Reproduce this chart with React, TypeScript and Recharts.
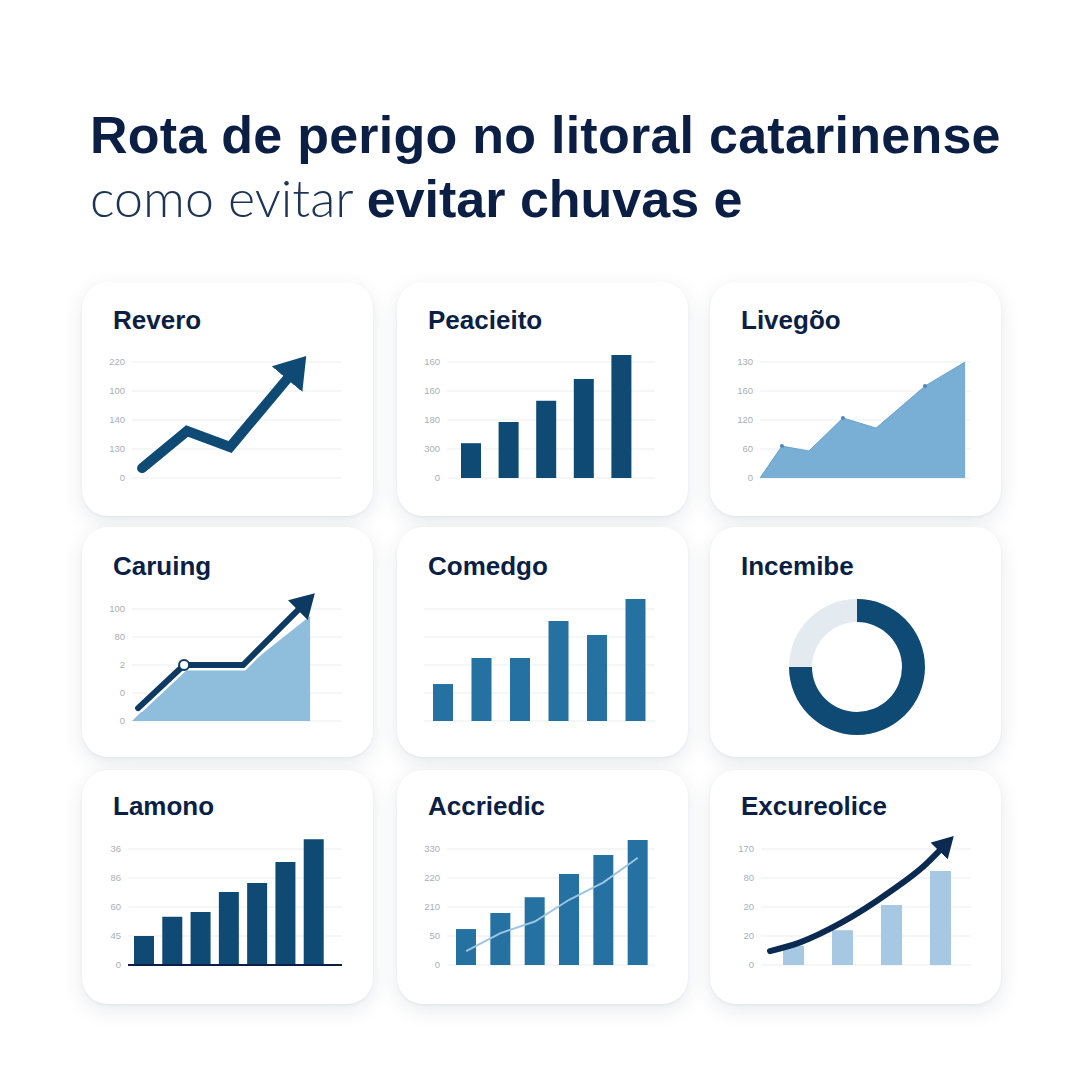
import React from "react";
import {
  LineChart,
  Line,
  BarChart,
  Bar,
  AreaChart,
  Area,
  ComposedChart,
  PieChart,
  Pie,
  Cell,
  XAxis,
  YAxis,
  CartesianGrid,
  ReferenceLine,
} from "recharts";

const FONT = '"Liberation Sans", Arial, Helvetica, sans-serif';
const NAVY = "#0b1f45";
const DARK = "#0e4a73";
const MID = "#2571a2";
const LIGHT = "#79afd5";
const PALE = "#a6c8e2";
const GRID = "#e9edf1";
const TICK = "#a9b0b8";

// headline
const headline1 = "Rota de perigo no litoral catarinense";
const headline2Light = "como evitar ";
const headline2Bold = "evitar chuvas e";

// Revero (line with arrow)
const reveroX = [0.48, 2.62, 4.67, 7.38];
const reveroY = [0.34, 1.62, 1.07, 3.41];
const reveroTicks = ["0", "130", "140", "100", "220"];

// Peacieito (bars)
const peacCats = ["A", "B", "C", "D", "E"];
const peacValues = [1.2, 1.93, 2.66, 3.41, 4.24];
const peacTicks = ["0", "300", "180", "160", "160"];

// Livegõo (area)
const livX = [0, 1.04, 2.32, 3.93, 5.5, 7.82, 9.72];
const livY = [0, 1.1, 0.93, 2.07, 1.72, 3.17, 4.0];
const livTicks = ["0", "60", "120", "160", "130"];

// Caruing (area + arrow line)
const carAreaX = [0, 2.48, 5.29, 8.48];
const carAreaY = [0, 1.85, 1.85, 3.75];
const carLineX = [0.29, 2.48, 5.29, 7.9];
const carLineY = [0.46, 2.0, 2.0, 3.96];
const carTicks = ["0", "0", "2", "80", "100"];

// Comedgo (bars, no labels)
const comCats = ["A", "B", "C", "D", "E", "F"];
const comValues = [1.32, 2.25, 2.25, 3.57, 3.07, 4.36];

// Incemibe (donut)
const incNames = ["A", "B"];
const incValues = [75, 25];

// Lamono (bars)
const lamCats = ["A", "B", "C", "D", "E", "F", "G"];
const lamValues = [1.0, 1.66, 1.83, 2.52, 2.83, 3.55, 4.34];
const lamTicks = ["0", "45", "60", "86", "36"];

// Accriedic (bars + thin line)
const accCats = ["A", "B", "C", "D", "E", "F"];
const accBars = [1.24, 1.79, 2.34, 3.14, 3.79, 4.31];
const accLine = [0.48, 1.1, 1.5, 2.25, 2.85, 3.7];
const accTicks = ["0", "50", "210", "220", "330"];

// Excureolice (bars + curved arrow)
const excCats = ["A", "B", "C", "D"];
const excBars = [0.66, 1.2, 2.07, 3.24];
const excLineX = [0.43, 1.86, 3.81, 6.19, 7.81, 8.48];
const excLineY = [0.48, 0.78, 1.45, 2.55, 3.45, 3.93];
const excTicks = ["0", "20", "20", "80", "170"];

const W = 291;
const COLS = [82, 397, 710];
const ROWS = [
  { y: 282, h: 234, top: 80, bottom: 196, titleTop: 25 },
  { y: 527, h: 230, top: 82, bottom: 194, titleTop: 26 },
  { y: 770, h: 234, top: 79, bottom: 195, titleTop: 23 },
];
const yTicks = [0, 1, 2, 3, 4];

const margins = (row: number, left: number, right: number, axis: boolean) => {
  const r = ROWS[row];
  const unit = (r.bottom - r.top) / 4;
  return { top: r.top - unit, bottom: r.h - r.bottom, left: axis ? 0 : left, right: W - right };
};

const grid = <CartesianGrid vertical={false} stroke={GRID} horizontalValues={yTicks} />;

const valueAxis = (labels: string[] | null, width: number) =>
  labels ? (
    <YAxis
      type="number"
      domain={[0, 5]}
      ticks={yTicks}
      width={width}
      axisLine={false}
      tickLine={false}
      tickSize={6}
      tickMargin={1}
      interval={0}
      tick={{ fontSize: 9.5, fill: TICK, fontFamily: FONT }}
      tickFormatter={(v: number) => labels[v] ?? ""}
    />
  ) : (
    <YAxis type="number" domain={[0, 5]} ticks={yTicks} hide />
  );

const arrowMarker = (id: string, len: number, wid: number, color: string) => (
  <defs>
    <marker
      id={id}
      viewBox={`0 0 ${len} ${wid}`}
      refX={0}
      refY={wid / 2}
      markerWidth={len}
      markerHeight={wid}
      markerUnits="userSpaceOnUse"
      orient="auto"
    >
      <path d={`M0,0 L${len},${wid / 2} L0,${wid} Z`} fill={color} />
    </marker>
  </defs>
);

const layer: React.CSSProperties = { position: "absolute", left: 0, top: 0 };

const Card = ({ col, row, title, children }: { col: number; row: number; title: string; children?: React.ReactNode }) => {
  const r = ROWS[row];
  return (
    <div
      style={{
        position: "absolute",
        left: COLS[col],
        top: r.y,
        width: W,
        height: r.h,
        background: "#ffffff",
        borderRadius: 26,
        boxShadow: "0 6px 20px rgba(25,45,80,0.10), 0 1px 3px rgba(25,45,80,0.06)",
      }}
    >
      <div
        style={{
          position: "absolute",
          left: 31,
          top: r.titleTop,
          fontSize: 26,
          lineHeight: "26px",
          fontWeight: 700,
          color: NAVY,
          whiteSpace: "nowrap",
        }}
      >
        {title}
      </div>
      {children}
    </div>
  );
};

export default function App() {
  const reveroData = reveroX.map((x, i) => ({ x, y: reveroY[i] }));
  const peacData = peacCats.map((k, i) => ({ k, v: peacValues[i] }));
  const livData = livX.map((x, i) => ({ x, y: livY[i] }));
  const carAreaData = carAreaX.map((x, i) => ({ x, y: carAreaY[i] }));
  const carLineData = carLineX.map((x, i) => ({ x, y: carLineY[i] }));
  const comData = comCats.map((k, i) => ({ k, v: comValues[i] }));
  const incData = incNames.map((name, i) => ({ name, value: incValues[i] }));
  const lamData = lamCats.map((k, i) => ({ k, v: lamValues[i] }));
  const accData = accCats.map((k, i) => ({ k, v: accBars[i], t: accLine[i] }));
  const excData = excCats.map((k, i) => ({ k, v: excBars[i] }));
  const excLineData = excLineX.map((x, i) => ({ x, y: excLineY[i] }));

  return (
    <div
      style={{
        position: "absolute",
        left: 0,
        top: 0,
        width: 1080,
        height: 1080,
        background: "#ffffff",
        overflow: "hidden",
        fontFamily: FONT,
      }}
    >
      <div
        style={{
          position: "absolute",
          left: 90,
          top: 109,
          fontSize: 52,
          lineHeight: "52px",
          fontWeight: 700,
          letterSpacing: 0.25,
          color: NAVY,
          whiteSpace: "nowrap",
        }}
      >
        {headline1}
      </div>
      <div
        style={{
          position: "absolute",
          left: 90,
          top: 171,
          fontSize: 52,
          lineHeight: "52px",
          whiteSpace: "nowrap",
          color: NAVY,
        }}
      >
        <span style={{ fontFamily: "Lato, 'Open Sans', sans-serif", fontWeight: 300, color: "#1b3355" }}>
          {headline2Light}
        </span>
        <span style={{ fontWeight: 700 }}>{headline2Bold}</span>
      </div>

      {/* Revero */}
      <Card col={0} row={0} title="Revero">
        <div style={layer}>
          <LineChart width={W} height={ROWS[0].h} data={reveroData} margin={margins(0, 50, 260, true)}>
            {arrowMarker("arrowRevero", 30, 40, DARK)}
            {grid}
            <XAxis type="number" dataKey="x" domain={[0, 10]} hide />
            {valueAxis(reveroTicks, 50)}
            <Line
              dataKey="y"
              type="linear"
              stroke={DARK}
              strokeWidth={10}
              strokeLinecap="round"
              strokeLinejoin="miter"
              dot={false}
              isAnimationActive={false}
              markerEnd="url(#arrowRevero)"
            />
          </LineChart>
        </div>
      </Card>

      {/* Peacieito */}
      <Card col={1} row={0} title="Peacieito">
        <div style={layer}>
          <BarChart width={W} height={ROWS[0].h} data={peacData} margin={margins(0, 50, 258, true)}>
            {grid}
            <XAxis dataKey="k" hide padding={{ left: 5, right: 15 }} />
            {valueAxis(peacTicks, 50)}
            <Bar dataKey="v" fill={DARK} barSize={20} isAnimationActive={false} />
          </BarChart>
        </div>
      </Card>

      {/* Livegõo */}
      <Card col={2} row={0} title="Livegõo">
        <div style={layer}>
          <AreaChart width={W} height={ROWS[0].h} data={livData} margin={margins(0, 50, 261, true)}>
            {grid}
            <XAxis type="number" dataKey="x" domain={[0, 10]} hide />
            {valueAxis(livTicks, 50)}
            <Area
              dataKey="y"
              type="linear"
              stroke="#6aa3cc"
              strokeWidth={1}
              fill={LIGHT}
              fillOpacity={1}
              isAnimationActive={false}
              dot={(p: any) =>
                p.index === 1 || p.index === 3 || p.index === 5 ? (
                  <circle key={p.index} cx={p.cx} cy={p.cy} r={2} fill="#4f88b5" />
                ) : (
                  <g key={p.index} />
                )
              }
            />
          </AreaChart>
        </div>
      </Card>

      {/* Caruing */}
      <Card col={0} row={1} title="Caruing">
        <div style={layer}>
          <AreaChart width={W} height={ROWS[1].h} data={carAreaData} margin={margins(1, 50, 260, true)}>
            {grid}
            <XAxis type="number" dataKey="x" domain={[0, 10]} hide />
            {valueAxis(carTicks, 50)}
            <Area
              dataKey="y"
              type="linear"
              stroke="none"
              fill="#8fbddc"
              fillOpacity={1}
              dot={false}
              isAnimationActive={false}
            />
          </AreaChart>
        </div>
        <div style={layer}>
          <LineChart width={W} height={ROWS[1].h} data={carLineData} margin={margins(1, 50, 260, false)}>
            {arrowMarker("arrowCaruing", 24, 28, "#0d3a62")}
            <XAxis type="number" dataKey="x" domain={[0, 10]} hide />
            {valueAxis(null, 0)}
            <Line
              dataKey="y"
              type="linear"
              stroke="#ffffff"
              strokeWidth={11}
              dot={false}
              isAnimationActive={false}
            />
            <Line
              dataKey="y"
              type="linear"
              stroke="#0d3a62"
              strokeWidth={6}
              strokeLinecap="round"
              isAnimationActive={false}
              markerEnd="url(#arrowCaruing)"
              dot={(p: any) =>
                p.index === 1 ? (
                  <circle key={p.index} cx={p.cx} cy={p.cy} r={5} fill="#ffffff" stroke="#0d3a62" strokeWidth={2} />
                ) : (
                  <g key={p.index} />
                )
              }
            />
          </LineChart>
        </div>
      </Card>

      {/* Comedgo */}
      <Card col={1} row={1} title="Comedgo">
        <div style={layer}>
          <BarChart width={W} height={ROWS[1].h} data={comData} margin={margins(1, 27, 258, false)}>
            {grid}
            <XAxis dataKey="k" hide />
            {valueAxis(null, 0)}
            <Bar dataKey="v" fill={MID} barSize={20} isAnimationActive={false} />
          </BarChart>
        </div>
      </Card>

      {/* Incemibe */}
      <Card col={2} row={1} title="Incemibe">
        <div style={layer}>
          <PieChart width={W} height={ROWS[1].h} margin={{ top: 0, right: 0, bottom: 0, left: 0 }}>
            <Pie
              data={incData}
              dataKey="value"
              nameKey="name"
              cx={147}
              cy={140}
              innerRadius={45}
              outerRadius={68}
              startAngle={90}
              endAngle={-270}
              stroke="none"
              isAnimationActive={false}
            >
              <Cell fill={DARK} />
              <Cell fill="#e3eaf0" />
            </Pie>
          </PieChart>
        </div>
      </Card>

      {/* Lamono */}
      <Card col={0} row={2} title="Lamono">
        <div style={layer}>
          <BarChart width={W} height={ROWS[2].h} data={lamData} margin={margins(2, 46, 260, true)}>
            {grid}
            <XAxis dataKey="k" hide padding={{ left: 2, right: 14 }} />
            {valueAxis(lamTicks, 46)}
            <Bar dataKey="v" fill={DARK} barSize={20} isAnimationActive={false} />
            <ReferenceLine y={0} stroke={NAVY} strokeWidth={2} />
          </BarChart>
        </div>
      </Card>

      {/* Accriedic */}
      <Card col={1} row={2} title="Accriedic">
        <div style={layer}>
          <ComposedChart width={W} height={ROWS[2].h} data={accData} margin={margins(2, 50, 258, true)}>
            {grid}
            <XAxis dataKey="k" hide padding={{ left: 2, right: 0 }} />
            {valueAxis(accTicks, 50)}
            <Bar dataKey="v" fill={MID} barSize={20} isAnimationActive={false} />
            <Line dataKey="t" type="linear" stroke="#9cc5e1" strokeWidth={2} dot={false} isAnimationActive={false} />
          </ComposedChart>
        </div>
      </Card>

      {/* Excureolice */}
      <Card col={2} row={2} title="Excureolice">
        <div style={layer}>
          <BarChart width={W} height={ROWS[2].h} data={excData} margin={margins(2, 51, 261, true)}>
            {grid}
            <XAxis dataKey="k" hide padding={{ left: 8, right: 6 }} />
            {valueAxis(excTicks, 51)}
            <Bar dataKey="v" fill={PALE} barSize={21} isAnimationActive={false} />
          </BarChart>
        </div>
        <div style={layer}>
          <LineChart width={W} height={ROWS[2].h} data={excLineData} margin={margins(2, 51, 261, false)}>
            {arrowMarker("arrowExc", 21, 24, "#0b2a52")}
            <XAxis type="number" dataKey="x" domain={[0, 10]} hide />
            {valueAxis(null, 0)}
            <Line
              dataKey="y"
              type="monotone"
              stroke="#0b2a52"
              strokeWidth={6}
              strokeLinecap="round"
              dot={false}
              isAnimationActive={false}
              markerEnd="url(#arrowExc)"
            />
          </LineChart>
        </div>
      </Card>
    </div>
  );
}
